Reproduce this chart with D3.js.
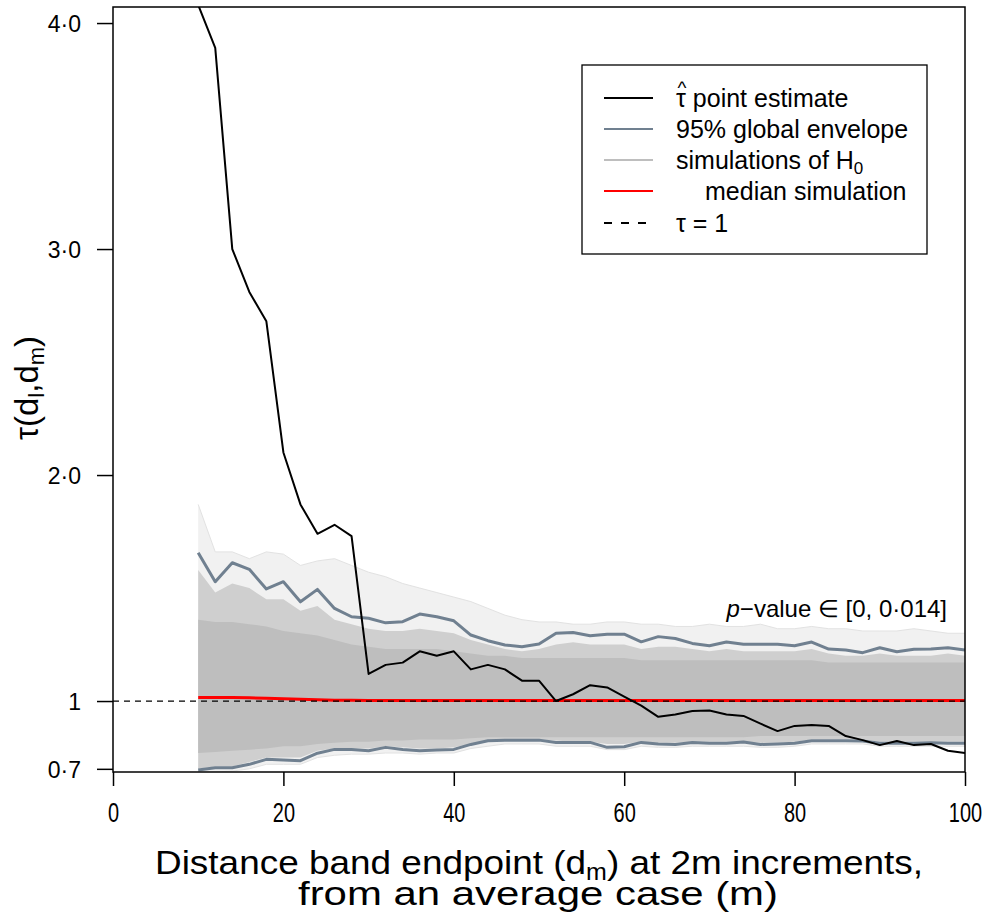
<!DOCTYPE html>
<html><head><meta charset="utf-8">
<script src="https://cdn.jsdelivr.net/npm/d3@7"></script>
<style>
body{margin:0;background:#fff}
svg{display:block}
text{font-family:"Liberation Sans",Arial,Helvetica,sans-serif;fill:#000}
</style>
</head><body>
<svg id="c" width="989" height="913"></svg>
<script>
// ---- data ----
const dm = [10,12,14,16,18,20,22,24,26,28,30,32,34,36,38,40,42,44,46,48,50,52,54,56,58,60,62,64,66,68,70,72,74,76,78,80,82,84,86,88,90,92,94,96,98,100];

const pointEstimate = [4.08,3.89,3.00,2.81,2.68,2.10,1.87,1.74,1.78,1.73,1.12,1.16,1.17,1.22,1.20,1.22,1.14,1.16,1.14,1.09,1.09,1.00,1.03,1.07,1.06,1.02,0.98,0.93,0.94,0.956,0.958,0.94,0.934,0.90,0.867,0.89,0.894,0.89,0.845,0.827,0.805,0.823,0.805,0.81,0.78,0.77];

const envelopeUpper = [1.656,1.528,1.612,1.583,1.496,1.528,1.439,1.494,1.410,1.373,1.366,1.346,1.351,1.385,1.373,1.355,1.292,1.267,1.248,1.240,1.252,1.300,1.303,1.289,1.296,1.296,1.262,1.285,1.277,1.255,1.245,1.261,1.251,1.251,1.251,1.245,1.261,1.230,1.226,1.214,1.236,1.218,1.229,1.230,1.236,1.226];

const envelopeLower = [0.695,0.705,0.705,0.720,0.742,0.739,0.736,0.769,0.786,0.786,0.780,0.795,0.786,0.780,0.783,0.786,0.808,0.824,0.827,0.827,0.827,0.817,0.816,0.817,0.795,0.798,0.817,0.810,0.808,0.817,0.813,0.813,0.819,0.808,0.810,0.813,0.824,0.824,0.824,0.823,0.813,0.813,0.813,0.815,0.813,0.813];

const medianSim = [1.016,1.016,1.016,1.014,1.012,1.010,1.008,1.006,1.004,1.003,1.002,1.002,1.002,1.002,1.002,1.002,1.002,1.002,1.002,1.002,1.002,1.002,1.002,1.002,1.002,1.002,1.002,1.002,1.002,1.002,1.002,1.002,1.002,1.002,1.002,1.002,1.002,1.002,1.002,1.002,1.002,1.002,1.002,1.002,1.002,1.002];

// simulations of H0: outer fringe, moderately dense zone and solid core (upper / lower edges)
const simMaxHi = [1.87,1.66,1.66,1.63,1.66,1.65,1.60,1.62,1.63,1.60,1.57,1.55,1.52,1.50,1.48,1.46,1.44,1.41,1.38,1.36,1.35,1.35,1.34,1.34,1.35,1.35,1.34,1.34,1.33,1.33,1.34,1.33,1.33,1.34,1.32,1.32,1.33,1.32,1.32,1.31,1.31,1.31,1.32,1.31,1.30,1.30];
const simMidHi = [1.58,1.48,1.52,1.50,1.45,1.45,1.40,1.42,1.36,1.34,1.32,1.31,1.31,1.32,1.31,1.30,1.27,1.25,1.23,1.22,1.23,1.25,1.26,1.25,1.25,1.25,1.23,1.24,1.24,1.23,1.22,1.23,1.22,1.22,1.22,1.22,1.23,1.21,1.20,1.20,1.21,1.20,1.20,1.20,1.21,1.20];
const simCoreHi = [1.36,1.35,1.35,1.34,1.33,1.31,1.30,1.29,1.27,1.25,1.24,1.23,1.23,1.23,1.23,1.22,1.21,1.20,1.20,1.19,1.19,1.19,1.19,1.19,1.19,1.19,1.18,1.18,1.18,1.18,1.18,1.18,1.18,1.18,1.18,1.18,1.18,1.17,1.17,1.17,1.17,1.17,1.17,1.17,1.17,1.17];
const simCoreLo = [0.77,0.775,0.78,0.785,0.79,0.80,0.80,0.81,0.815,0.82,0.82,0.825,0.825,0.83,0.83,0.83,0.835,0.84,0.84,0.84,0.84,0.84,0.84,0.84,0.84,0.84,0.84,0.84,0.84,0.84,0.84,0.84,0.84,0.845,0.845,0.845,0.845,0.845,0.845,0.845,0.845,0.845,0.845,0.845,0.845,0.845];
const simMidLo = [0.70,0.71,0.71,0.73,0.75,0.75,0.75,0.78,0.79,0.79,0.79,0.80,0.795,0.79,0.79,0.795,0.81,0.825,0.83,0.83,0.83,0.825,0.82,0.82,0.81,0.81,0.82,0.815,0.815,0.82,0.82,0.82,0.82,0.815,0.815,0.82,0.83,0.83,0.83,0.83,0.82,0.82,0.82,0.82,0.82,0.82];
const simMaxLo = [0.686,0.686,0.69,0.70,0.72,0.72,0.72,0.75,0.76,0.765,0.765,0.77,0.77,0.765,0.77,0.77,0.79,0.80,0.81,0.81,0.81,0.80,0.80,0.80,0.785,0.785,0.80,0.795,0.795,0.80,0.80,0.80,0.80,0.795,0.795,0.80,0.81,0.81,0.81,0.81,0.80,0.80,0.80,0.80,0.80,0.80];

const xTicks = [0,20,40,60,80,100];
const yTicks = [0.7,1,2,3,4];
const yTickLabels = ["0·7","1","2·0","3·0","4·0"];

// ---- layout ----
const svg = d3.select("#c");
const L = 113, R = 965, T = 7, B = 772;
const x = d3.scaleLinear().domain([0,100]).range([L,R]);
const y = d3.scaleLinear().domain([0.686,4.071]).range([B,T]);

svg.append("defs").append("clipPath").attr("id","plotclip")
  .append("rect").attr("x",L).attr("y",T).attr("width",R-L).attr("height",B-T);

const plot = svg.append("g").attr("clip-path","url(#plotclip)");
const idx = d3.range(dm.length);

function band(lo, hi, fill){
  plot.append("path").datum(idx)
    .attr("d", d3.area().x(i=>x(dm[i])).y0(i=>y(lo[i])).y1(i=>y(hi[i])))
    .attr("fill", fill).attr("stroke", "none");
}
function line(arr, color, w, dash){
  const p = plot.append("path").datum(idx)
    .attr("d", d3.line().x(i=>x(dm[i])).y(i=>y(arr[i])))
    .attr("fill","none").attr("stroke",color).attr("stroke-width",w)
    .attr("stroke-linejoin","round");
  if (dash) p.attr("stroke-dasharray",dash);
  return p;
}

// simulations
band(simMaxLo, simMaxHi, "#F1F1F1");
band(simMidLo, simMidHi, "#CFCFCF");
band(simCoreLo, simCoreHi, "#BEBEBE");
line(simMaxHi, "#E2E2E2", 1);
line(simMaxLo, "#E2E2E2", 1);

// envelope
line(envelopeUpper, "#708090", 3);
line(envelopeLower, "#708090", 3);
// median simulation
line(medianSim, "#FF0000", 3);
// point estimate
line(pointEstimate, "#000000", 2);
// tau = 1
plot.append("line").attr("x1",L).attr("x2",R).attr("y1",y(1)).attr("y2",y(1))
  .attr("stroke","#000").attr("stroke-width",1.3).attr("stroke-dasharray","6,5");

// frame
svg.append("rect").attr("x",L).attr("y",T).attr("width",R-L).attr("height",B-T)
  .attr("fill","none").attr("stroke","#000").attr("stroke-width",1.5);

// axes
const yAxis = d3.axisLeft(y).tickValues(yTicks).tickSize(16).tickPadding(16)
  .tickFormat((d,i)=>yTickLabels[i]);
const gy = svg.append("g").attr("transform",`translate(${L},0)`).call(yAxis);
gy.select(".domain").remove();
gy.selectAll(".tick line").attr("stroke","#000").attr("stroke-width",1.5);
gy.selectAll(".tick text").attr("font-size",23).attr("font-family",null).attr("dy","0.36em");

const xAxis = d3.axisBottom(x).tickValues(xTicks).tickSize(14).tickFormat(d3.format("d"));
const gx = svg.append("g").attr("transform",`translate(0,${B})`).call(xAxis);
gx.select(".domain").remove();
gx.selectAll(".tick line").attr("stroke","#000").attr("stroke-width",1.5);
gx.selectAll(".tick text").attr("font-size",27).attr("font-family",null)
  .attr("y",0).attr("dy",0).attr("transform","translate(0,50) scale(0.74,1)");

// axis titles
const xt = svg.append("text").attr("x",(L+R)/2).attr("y",874).attr("text-anchor","middle")
  .attr("font-size",34).attr("textLength",768).attr("lengthAdjust","spacingAndGlyphs");
xt.append("tspan").text("Distance band endpoint (d");
xt.append("tspan").attr("font-size",23).attr("dy",6).text("m");
xt.append("tspan").attr("dy",-6).text(") at 2m increments,");
svg.append("text").attr("x",538).attr("y",905).attr("text-anchor","middle")
  .attr("font-size",34).attr("textLength",480).attr("lengthAdjust","spacingAndGlyphs")
  .text("from an average case (m)");

const yt = svg.append("text").attr("transform","translate(38,388) rotate(-90)")
  .attr("text-anchor","middle").attr("font-size",33);
yt.append("tspan").text("τ(d");
yt.append("tspan").attr("font-size",22).attr("dy",6).text("l");
yt.append("tspan").attr("dy",-6).text(",d");
yt.append("tspan").attr("font-size",22).attr("dy",6).text("m");
yt.append("tspan").attr("dy",-6).text(")");

// p-value annotation
const pv = svg.append("text").attr("x",947).attr("y",617).attr("text-anchor","end").attr("font-size",24);
pv.append("tspan").attr("font-style","italic").text("p");
pv.append("tspan").text("−value ∈ [0, 0·014]");

// legend
const lg = svg.append("g");
lg.append("rect").attr("x",582).attr("y",65).attr("width",345).attr("height",189)
  .attr("fill","#fff").attr("stroke","#000").attr("stroke-width",1.3);
const legendItems = [
  {c:"#000000", w:2, dash:null},
  {c:"#708090", w:2, dash:null},
  {c:"#BEBEBE", w:2, dash:null},
  {c:"#FF0000", w:2, dash:null},
  {c:"#000000", w:2, dash:"8,9"}
];
const rowY = [98,129,160,191,223];
legendItems.forEach((it,i)=>{
  const l = lg.append("line").attr("x1",604).attr("x2",653).attr("y1",rowY[i]).attr("y2",rowY[i])
    .attr("stroke",it.c).attr("stroke-width",it.w);
  if (it.dash) l.attr("stroke-dasharray",it.dash);
});
const fs = 25;
// row 1: tau-hat (hat drawn as its own small glyph above the tau)
lg.append("text").attr("x",676).attr("y",rowY[0]+9).attr("font-size",fs).text("τ point estimate");
lg.append("text").attr("x",682).attr("y",rowY[0]-4).attr("text-anchor","middle").attr("font-size",19).text("^");
lg.append("text").attr("x",676).attr("y",rowY[1]+9).attr("font-size",fs).text("95% global envelope");
const t3 = lg.append("text").attr("x",676).attr("y",rowY[2]+9).attr("font-size",fs);
t3.append("tspan").text("simulations of H");
t3.append("tspan").attr("font-size",17).attr("dy",5).text("0");
lg.append("text").attr("x",705).attr("y",rowY[3]+9).attr("font-size",fs).text("median simulation");
lg.append("text").attr("x",676).attr("y",rowY[4]+9).attr("font-size",fs).text("τ = 1");
</script>
</body></html>
